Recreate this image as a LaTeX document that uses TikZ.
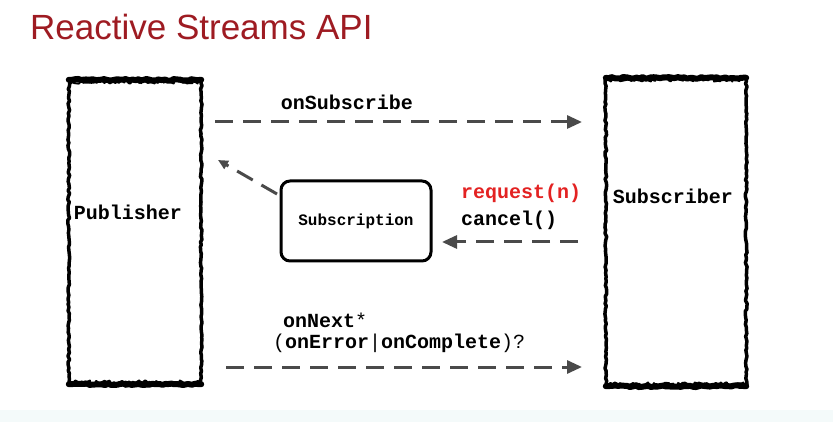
\documentclass[tikz,border=0pt]{standalone}
\usepackage{fontspec}
\setmainfont{Liberation Sans}
\setmonofont{Liberation Mono}
\usetikzlibrary{decorations.pathmorphing,arrows.meta}
\definecolor{titlered}{HTML}{9E1B22}
\definecolor{reqred}{HTML}{E32222}
\definecolor{arrowgray}{HTML}{4A4A4A}
\definecolor{stripcol}{HTML}{F4FAFA}
\begin{document}
\begin{tikzpicture}[x=1pt,y=-1pt,
  rough/.style={decorate,decoration={random steps,segment length=3pt,amplitude=0.9pt},line cap=round,line join=round},
  rougher/.style={decorate,decoration={random steps,segment length=2pt,amplitude=1.8pt},line cap=round,line join=round},
  boxshape/.style={rectangle,draw=none,inner sep=0pt},
  flow/.style={draw=arrowgray,line width=3pt,dash pattern=on 18pt off 10pt,-{Triangle[length=15pt,width=13pt]}},
  smalltip/.style={-{Triangle[length=10pt,width=9pt]}},
  mono/.style={font=\ttfamily\bfseries\fontsize{20}{24}\selectfont,inner sep=0pt},
  smallmono/.style={font=\ttfamily\bfseries\fontsize{16}{20}\selectfont,inner sep=0pt}]
\useasboundingbox (0,0) rectangle (833,422);
\fill[stripcol] (0,410) rectangle (833,422);
% title
\node[anchor=base west,inner sep=0pt,text=titlered,font=\fontsize{35}{40}\selectfont] (title) at (30,40) {Reactive Streams API};
% publisher box
\node[boxshape,minimum width=132pt,minimum height=304pt] (pub) at (135,232) {};
\draw[rough,line width=6pt] (pub.north west) -- (pub.north east);
\draw[rougher,line width=2pt] ([yshift=-2pt]pub.north west) -- ([yshift=-2pt]pub.north east);
\draw[rough,line width=6pt] (pub.south west) -- (pub.south east);
\draw[rougher,line width=2pt] ([yshift=2pt]pub.south west) -- ([yshift=2pt]pub.south east);
\draw[rough,line width=3.5pt] (pub.north west) -- (pub.south west);
\draw[rough,line width=3.5pt] (pub.north east) -- (pub.south east);
\node[mono] (publab) at (128,212) {Publisher};
% subscriber box
\node[boxshape,minimum width=140pt,minimum height=308pt] (sub) at (676,232) {};
\draw[rough,line width=6pt] (sub.north west) -- (sub.north east);
\draw[rougher,line width=2pt] ([yshift=-2pt]sub.north west) -- ([yshift=-2pt]sub.north east);
\draw[rough,line width=6pt] (sub.south west) -- (sub.south east);
\draw[rougher,line width=2pt] ([yshift=2pt]sub.south west) -- ([yshift=2pt]sub.south east);
\draw[rough,line width=3.5pt] (sub.north west) -- (sub.south west);
\draw[rough,line width=3.5pt] (sub.north east) -- (sub.south east);
\node[mono] (sublab) at (673,196) {Subscriber};
% subscription box
\node[rectangle,draw,line width=3pt,rounded corners=9pt,minimum width=150pt,minimum height=80pt,smallmono] (subs) at (356,221) {Subscription};
% labels
\node[mono] (onsub) at (347,102) {onSubscribe};
\node[mono,anchor=west,text=reqred] (req) at (461,193) {request(n)};
\node[mono,anchor=west] (cancel) at (461,220) {cancel()};
\node[mono,anchor=west] (onnext) at (283,320) {onNext\mdseries*};
\node[mono,anchor=west] (onerr) at (273,343) {\mdseries(\bfseries onError\mdseries|\bfseries onComplete\mdseries)?};
% connector end points
\coordinate (c1a) at (215,122);
\coordinate (c1b) at (582,122);
\coordinate (c2a) at (277,194);
\coordinate (c2b) at (218,160);
\coordinate (c3a) at (578,242);
\coordinate (c3b) at (442,242);
\coordinate (c4a) at (226,367);
\coordinate (c4b) at (582,367);
\draw[flow] (c1a) -- (c1b);
\draw[flow,smalltip] (c2a) -- (c2b);
\draw[flow] (c3a) -- (c3b);
\draw[flow] (c4a) -- (c4b);
\end{tikzpicture}
\end{document}
